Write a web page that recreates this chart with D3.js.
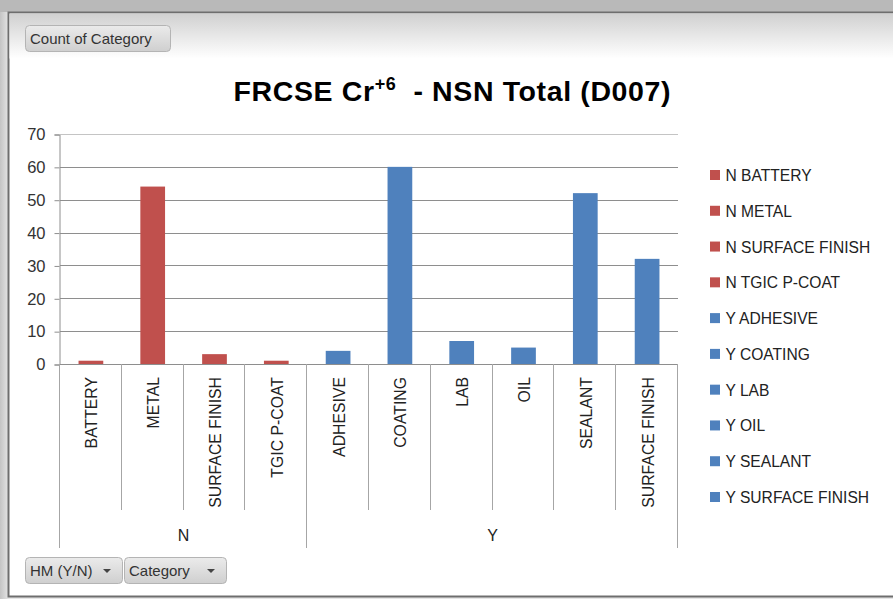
<!DOCTYPE html>
<html>
<head>
<meta charset="utf-8">
<script src="https://cdn.jsdelivr.net/npm/d3@7"></script>
<style>
  body { margin: 0; background: #d9d9d9; }
  svg { display: block; font-family: "Liberation Sans", Arial, sans-serif; }
</style>
</head>
<body>
<script>
'use strict'

let groups = ['N', 'Y']
let categories = ['BATTERY', 'METAL', 'SURFACE FINISH', 'TGIC P-COAT',
    'ADHESIVE', 'COATING', 'LAB', 'OIL', 'SEALANT', 'SURFACE FINISH']
let groupOf = ['N', 'N', 'N', 'N', 'Y', 'Y', 'Y', 'Y', 'Y', 'Y']
let counts = [1, 54, 3, 1, 4, 60, 7, 5, 52, 32]
let yTicks = [0, 10, 20, 30, 40, 50, 60, 70]

let width = 893,
    height = 599,
    plotLeft = 60,
    plotRight = 678,
    plotTop = 134,
    plotBottom = 364

let colors = { N: '#c0504d', Y: '#4f81bd' }

let svg = d3.select('body').append('svg')
    .attr('width', width)
    .attr('height', height)

let defs = svg.append('defs')
let bg = defs.append('linearGradient').attr('id', 'outer').attr('x1', 0).attr('x2', 1).attr('y1', 0).attr('y2', 0)
bg.append('stop').attr('offset', '0').attr('stop-color', '#c4c4c4')
bg.append('stop').attr('offset', '0.01').attr('stop-color', '#e6e6e6')
bg.append('stop').attr('offset', '1').attr('stop-color', '#e6e6e6')

let topFade = defs.append('linearGradient').attr('id', 'topfade').attr('x1', 0).attr('x2', 0).attr('y1', 0).attr('y2', 1)
topFade.append('stop').attr('offset', '0').attr('stop-color', '#d0d0d0')
topFade.append('stop').attr('offset', '1').attr('stop-color', '#ffffff')

let btn = defs.append('linearGradient').attr('id', 'btn').attr('x1', 0).attr('x2', 0).attr('y1', 0).attr('y2', 1)
btn.append('stop').attr('offset', '0').attr('stop-color', '#ebebeb')
btn.append('stop').attr('offset', '1').attr('stop-color', '#cfcfcf')

// window chrome
svg.append('rect').attr('width', width).attr('height', height).attr('fill', 'url(#outer)')
svg.append('rect').attr('x', 0).attr('y', 0).attr('width', width).attr('height', 12).attr('fill', '#b9b9b9')
svg.append('rect')
    .attr('x', 8.5).attr('y', 12.5)
    .attr('width', width).attr('height', 584)
    .attr('fill', '#fff')
    .attr('stroke', '#6e6e6e')
    .attr('stroke-width', 2)
svg.append('rect').attr('x', 9.5).attr('y', 13.5).attr('width', width).attr('height', 45).attr('fill', 'url(#topfade)')

let x = d3.scaleBand()
    .domain(d3.range(categories.length))
    .range([plotLeft, plotRight])
    .paddingInner(0.6)
    .paddingOuter(0.3)

let y = d3.scaleLinear()
    .domain([0, 70])
    .range([plotBottom, plotTop])

// gridlines
svg.append('g').selectAll('line').data(yTicks).enter()
    .append('line')
    .attr('x1', plotLeft).attr('x2', plotRight)
    .attr('y1', d => Math.round(y(d)) + 0.5)
    .attr('y2', d => Math.round(y(d)) + 0.5)
    .attr('stroke', d => d === 70 ? '#c4c4c4' : '#8e8e8e')

// y axis
let yAxis = svg.append('g')
    .attr('transform', 'translate(' + (plotLeft - 0.5) + ',0.5)')
    .call(d3.axisLeft(y).tickValues(yTicks).tickSize(5).tickPadding(9))
yAxis.select('.domain').attr('stroke', '#8e8e8e')
yAxis.selectAll('line').attr('stroke', '#8e8e8e')
yAxis.selectAll('text').attr('font-size', 16.5).attr('fill', '#333')
    .attr('font-family', '"Liberation Sans", Arial, sans-serif')

// bars
svg.append('g').selectAll('rect').data(counts).enter()
    .append('rect')
    .attr('x', (d, i) => x(i))
    .attr('y', d => y(d))
    .attr('width', x.bandwidth())
    .attr('height', d => y(0) - y(d))
    .attr('fill', (d, i) => colors[groupOf[i]])

// category axis separators
let step = x.step()
let bounds = d3.range(categories.length + 1).map(i => plotLeft + i * step)
svg.append('g').selectAll('line').data(bounds).enter()
    .append('line')
    .attr('x1', d => Math.round(d) - 0.5)
    .attr('x2', d => Math.round(d) - 0.5)
    .attr('y1', plotBottom)
    .attr('y2', (d, i) => (i === 0 || i === 4 || i === categories.length) ? 548 : 510)
    .attr('stroke', '#a6a6a6')

// category labels
svg.append('g').selectAll('text').data(categories).enter()
    .append('text')
    .attr('transform', (d, i) => 'translate(' + (x(i) + x.bandwidth() / 2 + 6.5) + ',377) rotate(-90)')
    .attr('text-anchor', 'end')
    .attr('font-size', 15.8)
    .attr('fill', '#222')
    .text(d => d)

// group labels
svg.append('g').selectAll('text').data(groups).enter()
    .append('text')
    .attr('x', g => {
        let idx = d3.range(categories.length).filter(i => groupOf[i] === g)
        return (x(idx[0]) - x.step() * 0.3 + x(idx[idx.length - 1]) + x.bandwidth() + x.step() * 0.3) / 2
    })
    .attr('y', 541)
    .attr('text-anchor', 'middle')
    .attr('font-size', 16)
    .attr('fill', '#222')
    .text(d => d)

// title
let title = svg.append('text')
    .attr('x', 452)
    .attr('y', 101)
    .attr('text-anchor', 'middle')
    .attr('font-size', 28.5)
    .attr('font-weight', 'bold')
    .attr('fill', '#000')
    .attr('textLength', 437)
    .attr('lengthAdjust', 'spacing')
    .style('white-space', 'pre')
title.append('tspan').text('FRCSE Cr')
title.append('tspan').attr('dy', -11).attr('font-size', 18).text('+6')
title.append('tspan').attr('dy', 11).text('  - NSN Total (D007)')

// legend
let legendY = d3.scalePoint()
    .domain(d3.range(categories.length))
    .range([175, 497])
let legend = svg.append('g').selectAll('g').data(categories).enter()
    .append('g')
    .attr('transform', (d, i) => 'translate(710,' + legendY(i) + ')')
legend.append('rect')
    .attr('x', 0).attr('y', -5)
    .attr('width', 10).attr('height', 10)
    .attr('fill', (d, i) => colors[groupOf[i]])
legend.append('text')
    .attr('x', 15.5)
    .attr('y', 6)
    .attr('font-size', 15.6)
    .attr('fill', '#222')
    .text((d, i) => groupOf[i] + ' ' + d)

// pivot field buttons
function button(x0, y0, w, label, arrow) {
    let g = svg.append('g').attr('transform', 'translate(' + x0 + ',' + y0 + ')')
    g.append('rect')
        .attr('x', 0.5).attr('y', 0.5)
        .attr('width', w).attr('height', 26)
        .attr('rx', 4)
        .attr('fill', 'url(#btn)')
        .attr('stroke', '#b4b4b4')
    g.append('text')
        .attr('x', 5).attr('y', 18.5)
        .attr('font-size', 15)
        .attr('fill', '#333')
        .text(label)
    if (arrow) {
        g.append('path')
            .attr('d', 'M' + (w - 19) + ',12 h8 l-4,4 z')
            .attr('fill', '#444')
    }
}
button(25, 25, 145, 'Count of Category', false)
button(25, 557, 97, 'HM (Y/N)', true)
button(124, 557, 102, 'Category', true)
</script>
</body>
</html>
